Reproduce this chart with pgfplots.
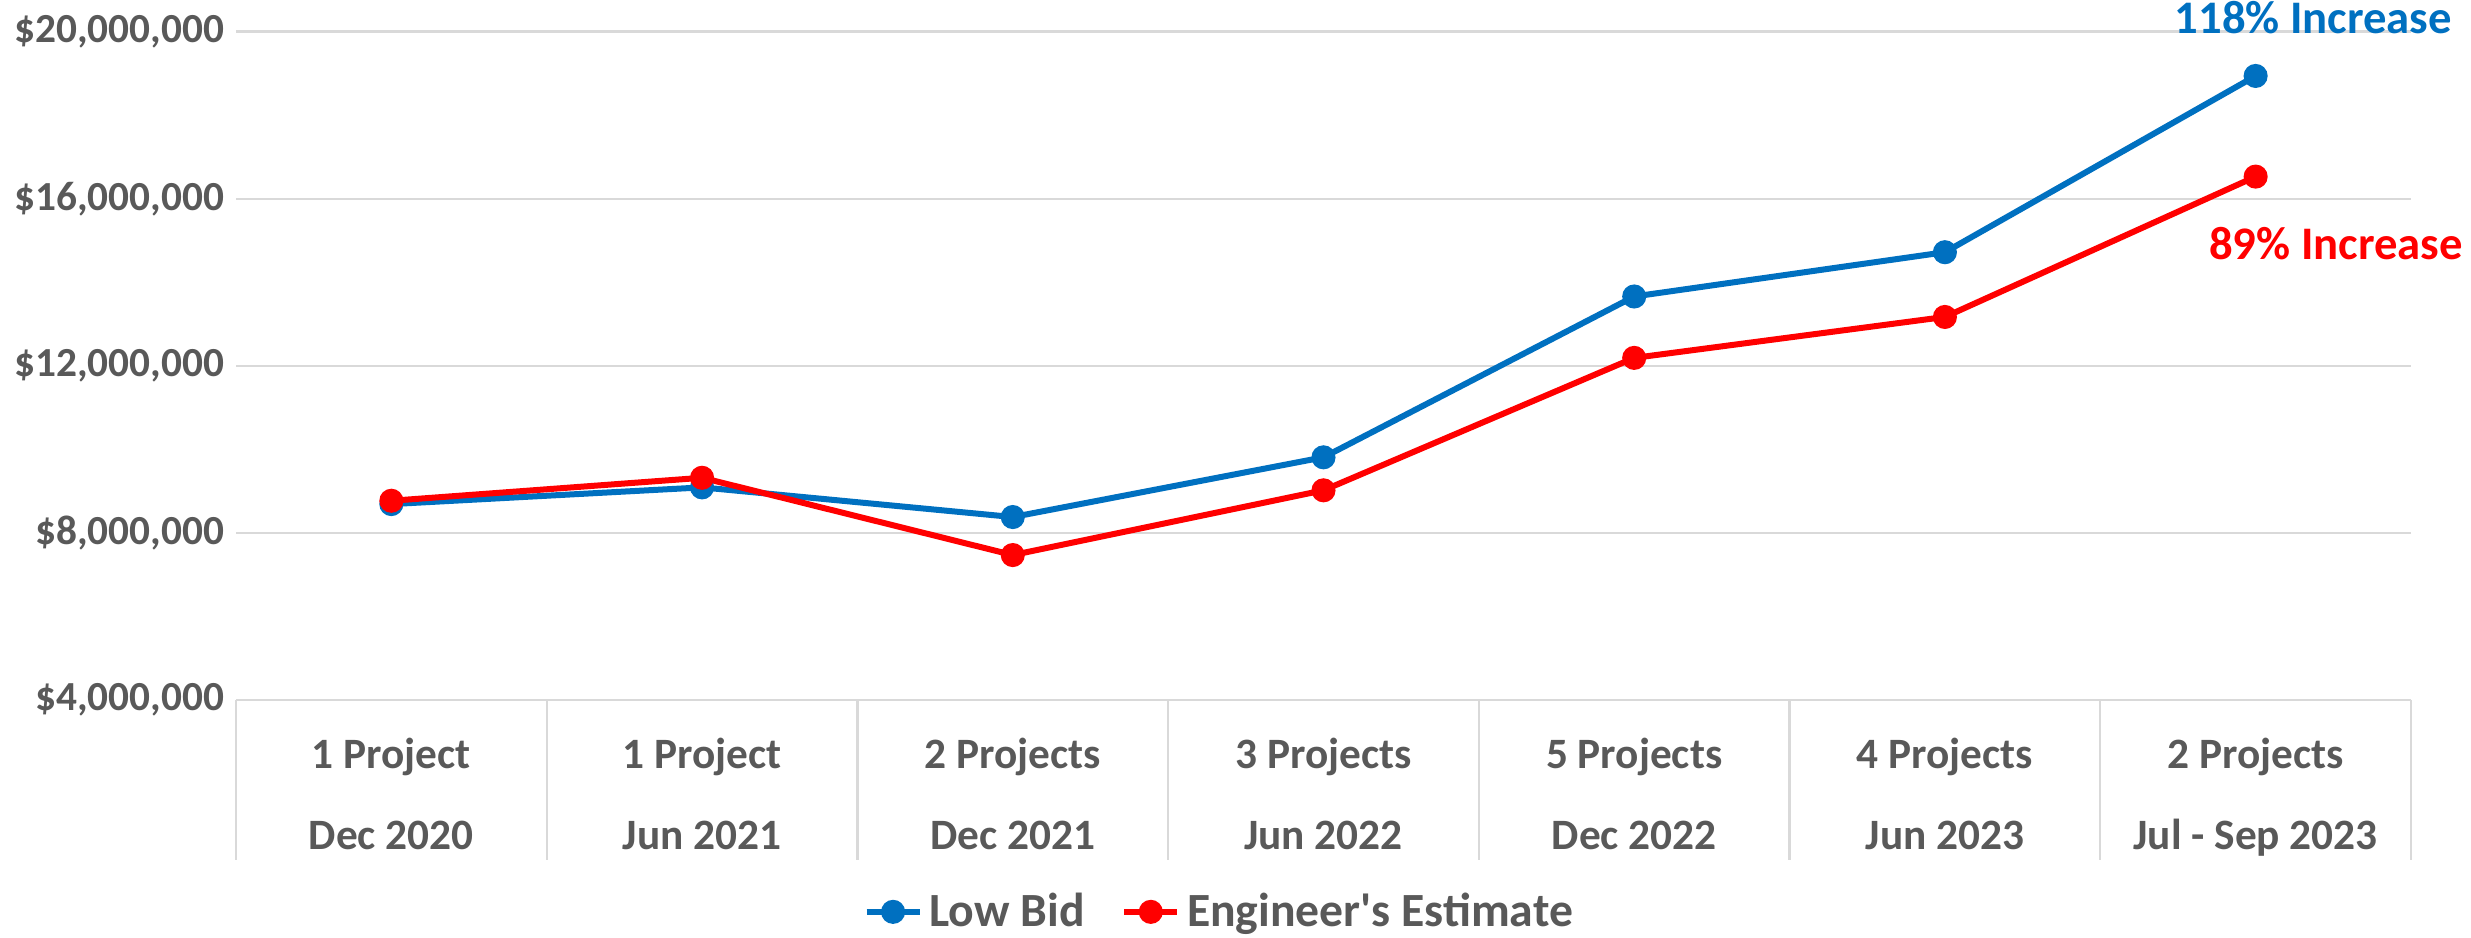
\documentclass[border=0pt]{standalone}
\usepackage{fontspec}
\setmainfont{Carlito}
\newfontfamily\nomapfont{Carlito}
\usepackage{pgfplots}
\pgfplotsset{compat=1.18}
\definecolor{lbblue}{HTML}{0070C0}
\definecolor{eered}{HTML}{FF0000}
\definecolor{tickgray}{HTML}{595959}
\definecolor{gridgray}{HTML}{D9D9D9}
\begin{document}
\begin{tikzpicture}
\useasboundingbox (0,0) rectangle (741.3pt,281.1pt);
\begin{axis}[
  at={(70.8pt,71.1pt)}, anchor=south west,
  scale only axis, width=652.5pt, height=200.5pt,
  xmin=-0.5, xmax=6.5, ymin=4000000, ymax=20000000,
  clip=false,
  scaled y ticks=false,
  axis line style={draw=none},
  major tick length=0pt,
  ymajorgrids, grid style={gridgray, line width=0.7pt},
  ytick={4000000,8000000,12000000,16000000,20000000},
  yticklabels={{\$4,000,000},{\$8,000,000},{\$12,000,000},{\$16,000,000},{\$20,000,000}},
  yticklabel style={font=\fontsize{12.4}{15}\selectfont\bfseries, text=tickgray, xshift=0pt},
  xtick={0,1,2,3,4,5,6},
  xticklabels={{1 Project\\[8.5pt]Dec 2020},{1 Project\\[8.5pt]Jun 2021},{2 Projects\\[8.5pt]Dec 2021},{3 Projects\\[8.5pt]Jun 2022},{5 Projects\\[8.5pt]Dec 2022},{4 Projects\\[8.5pt]Jun 2023},{2 Projects\\[8.5pt]Jul - Sep 2023}},
  xticklabel style={font=\fontsize{13}{15.6}\selectfont\bfseries, text=tickgray, align=center, anchor=north, yshift=-8pt},
  legend style={at={(0.4524,-0.317)}, anchor=center, draw=none, fill=none,
    font=\fontsize{14.3}{17}\selectfont\bfseries, text=tickgray,
    /tikz/every odd column/.append style={column sep=1pt},
    /tikz/every even column/.append style={column sep=10pt},
    nodes={inner xsep=1pt}},
  legend columns=2,
  legend image code/.code={\draw[#1, mark repeat=2, mark phase=2] plot coordinates {(0cm,0cm) (0.28cm,0cm) (0.56cm,0cm)};},
]
\pgfplotsinvokeforeach{-0.5,0.5,1.5,2.5,3.5,4.5,5.5,6.5}{
  \draw[gridgray, line width=0.7pt] (axis cs:#1,4000000) -- ([yshift=-48pt]axis cs:#1,4000000);
}
\addplot[lbblue, line width=1.8pt, mark=*, mark size=2.7pt] coordinates {
(0,8690000) (1,9090000) (2,8380000) (3,9810000) (4,13660000) (5,14720000) (6,18940000)};
\addlegendentry{Low Bid}
\addplot[eered, line width=1.8pt, mark=*, mark size=2.7pt] coordinates {
(0,8770000) (1,9320000) (2,7470000) (3,9020000) (4,12190000) (5,13170000) (6,16530000)};
\addlegendentry{Engineer{\nomapfont '}s Estimate}
\node[text=lbblue, font=\fontsize{14}{17}\selectfont\bfseries] at (axis cs:6.186,20340000) {118\% Increase};
\node[text=eered, font=\fontsize{14}{17}\selectfont\bfseries] at (axis cs:6.259,14920000) {89\% Increase};
\end{axis}
\end{tikzpicture}
\end{document}
